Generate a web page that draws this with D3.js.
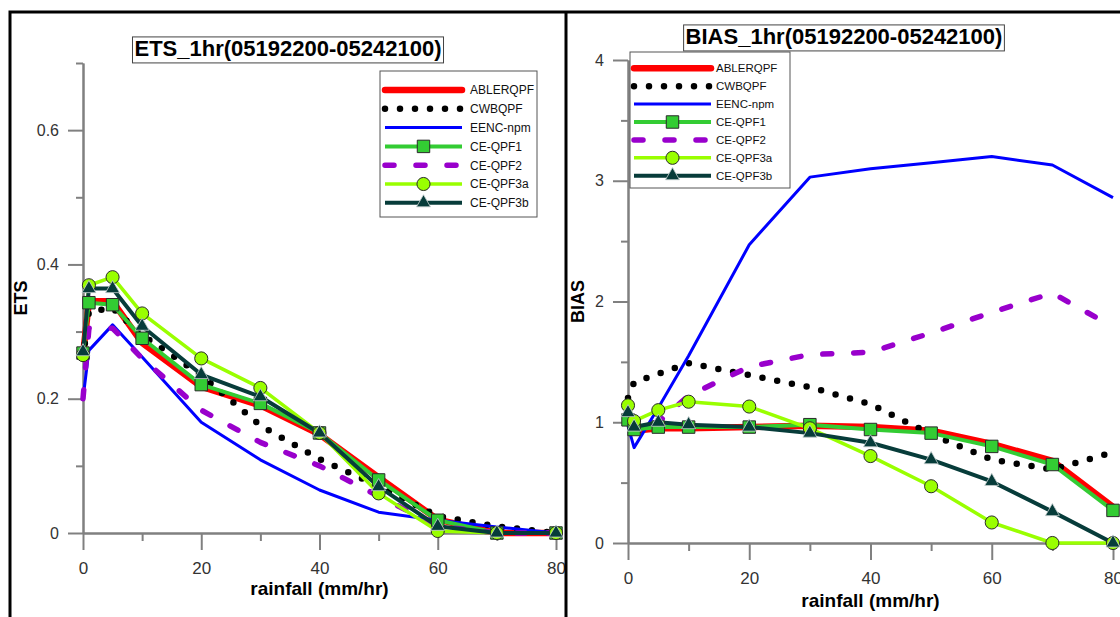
<!DOCTYPE html>
<html>
<head>
<meta charset="utf-8">
<script src="https://cdn.jsdelivr.net/npm/d3@7"></script>
<style>
	body { margin: 0; background: #fff; }
	svg { display: block; font-family: "Liberation Sans", Arial, sans-serif; }
</style>
</head>
<body>
<svg id="wrapper" width="1120" height="617"></svg>
<script>
// rainfall thresholds (mm/hr)
let rainfall = [0, 1, 5, 10, 20, 30, 40, 50, 60, 70, 80];

let seriesNames = ["ABLERQPF", "CWBQPF", "EENC-npm", "CE-QPF1", "CE-QPF2", "CE-QPF3a", "CE-QPF3b"];

// ETS values
let etsABLERQPF = [0.265, 0.345, 0.345, 0.283, 0.218, 0.19, 0.147, 0.083, 0.02, 0, 0];
let etsCWBQPF = [0.26, 0.33, 0.335, 0.295, 0.235, 0.16, 0.11, 0.07, 0.025, 0.01, 0];
let etsEENC = [0.2, 0.272, 0.31, 0.262, 0.165, 0.109, 0.064, 0.031, 0.019, 0.009, 0];
let etsQPF1 = [0.268, 0.343, 0.34, 0.29, 0.221, 0.193, 0.149, 0.079, 0.019, 0, 0];
let etsQPF2 = [0.2, 0.305, 0.305, 0.26, 0.183, 0.135, 0.1, 0.055, 0.01, 0, 0];
let etsQPF3a = [0.265, 0.369, 0.381, 0.327, 0.26, 0.216, 0.149, 0.059, 0.003, 0, 0];
let etsQPF3b = [0.27, 0.364, 0.364, 0.308, 0.236, 0.203, 0.149, 0.069, 0.01, 0, 0];

// BIAS values
let biasABLERQPF = [1.0, 0.93, 0.95, 0.95, 0.96, 0.97, 0.96, 0.93, 0.82, 0.68, 0.3];
let biasCWBQPF = [1.2, 1.33, 1.4, 1.49, 1.39, 1.29, 1.15, 0.9, 0.69, 0.61, 0.75];
let biasEENC = [0.97, 0.79, 1.12, 1.55, 2.47, 3.03, 3.1, 3.15, 3.2, 3.13, 2.86];
let biasQPF1 = [1.02, 0.94, 0.96, 0.96, 0.96, 0.98, 0.94, 0.91, 0.8, 0.65, 0.27];
let biasQPF2 = [1.05, 0.98, 1.0, 1.22, 1.46, 1.56, 1.58, 1.74, 1.91, 2.07, 1.79];
let biasQPF3a = [1.14, 1.01, 1.1, 1.17, 1.13, 0.95, 0.72, 0.47, 0.17, 0, 0];
let biasQPF3b = [1.08, 0.96, 1.0, 0.98, 0.96, 0.91, 0.83, 0.69, 0.51, 0.26, 0];

let etsTicks = [0, 0.2, 0.4, 0.6];
let etsMinor = [0.1, 0.3, 0.5, 0.7];
let biasTicks = [0, 1, 2, 3, 4];
let biasMinor = [0.5, 1.5, 2.5, 3.5];
let xTicks = [0, 20, 40, 60, 80];
let xMinor = [10, 30, 50, 70];

let styles = {
	"ABLERQPF": { color: "#ff0000", width: 6.5, cap: "round" },
	"CWBQPF": { color: "#000000", width: 6.5, dash: "0 15" },
	"EENC-npm": { color: "#0000ff", width: 3 },
	"CE-QPF1": { color: "#33cc33", width: 4, marker: "square" },
	"CE-QPF2": { color: "#9900cc", width: 5.5, dash: "9 22" },
	"CE-QPF3a": { color: "#99ff00", width: 3.5, marker: "circle" },
	"CE-QPF3b": { color: "#073c3a", width: 4, marker: "triangle" },
};

let svg = d3.select("#wrapper");

let symbolFor = function (kind) {
	if (kind === "square") return d3.symbol(d3.symbolSquare, 155)();
	if (kind === "circle") return d3.symbol(d3.symbolCircle, 135)();
	return d3.symbol(d3.symbolTriangle, 85)();
};

let drawMarker = function (g, kind, x, y) {
	let st = Object.values(styles).find((s) => s.marker === kind);
	g.append("path")
		.attr("d", symbolFor(kind))
		.attr("transform", "translate(" + x + "," + y + ")")
		.attr("fill", st.color)
		.attr("stroke", kind === "triangle" ? "#c8d0d0" : "#2a2a2a")
		.attr("stroke-width", kind === "triangle" ? 0.8 : 1);
};

let styleLine = function (sel, st) {
	sel.attr("fill", "none")
		.attr("stroke", st.color)
		.attr("stroke-width", st.width)
		.attr("stroke-linejoin", "round")
		.attr("stroke-linecap", st.dash || st.cap ? "round" : "butt");
	if (st.dash) sel.attr("stroke-dasharray", st.dash);
};

let drawPanel = function (p) {
	let g = svg.append("g");
	let x = d3.scaleLinear().domain([0, 80]).range(p.xRange);
	let y = d3.scaleLinear().domain(p.yDomain).range(p.yRange);
	let axisColor = "#808080";

	// minor ticks first, then major ticks with labels
	let yMinor = g.append("g").attr("transform", "translate(" + p.xRange[0] + ",0)")
		.call(d3.axisLeft(y).tickValues(p.minor).tickSize(7).tickSizeOuter(0).tickFormat(""));
	let yMajor = g.append("g").attr("transform", "translate(" + p.xRange[0] + ",0)")
		.call(d3.axisLeft(y).tickValues(p.major).tickSize(15).tickSizeOuter(0).tickPadding(9).tickFormat(p.fmt));
	let xMin = g.append("g").attr("transform", "translate(0," + p.yRange[0] + ")")
		.call(d3.axisBottom(x).tickValues(xMinor).tickSize(8).tickSizeOuter(0).tickFormat(""));
	let xMaj = g.append("g").attr("transform", "translate(0," + p.yRange[0] + ")")
		.call(d3.axisBottom(x).tickValues(xTicks).tickSize(17).tickSizeOuter(0).tickPadding(12));

	[yMinor, yMajor, xMin, xMaj].forEach((a) => {
		a.selectAll("path, line").attr("stroke", axisColor).attr("stroke-width", 2);
		a.selectAll("text").attr("fill", "#333").style("font-size", "16px")
			.style("font-family", "'Liberation Sans', Arial, sans-serif");
	});
	xMaj.selectAll("text").style("font-size", "17px");

	// axis titles
	g.append("text")
		.attr("x", (p.xRange[0] + p.xRange[1]) / 2)
		.attr("y", p.xTitleY)
		.attr("text-anchor", "middle")
		.attr("font-weight", "bold").attr("font-size", 19)
		.text("rainfall (mm/hr)");
	g.append("text")
		.attr("transform", "translate(" + p.yTitleX + "," + (p.yRange[0] + p.yRange[1]) / 2 + ") rotate(-90)")
		.attr("text-anchor", "middle").attr("dy", "0.35em")
		.attr("font-weight", "bold").attr("font-size", 18)
		.text(p.yTitle);

	// series lines, then markers on top
	let line = d3.line().x((d, i) => x(rainfall[i])).y((d) => y(d));
	p.series.forEach((vals, k) => {
		let st = styles[seriesNames[k]];
		styleLine(g.append("path").datum(vals).attr("d", line), st);
	});
	p.series.forEach((vals, k) => {
		let st = styles[seriesNames[k]];
		if (!st.marker) return;
		vals.forEach((v, i) => drawMarker(g, st.marker, x(rainfall[i]), y(v)));
	});

	// chart title in a box
	let t = g.append("text")
		.attr("x", p.titleX).attr("y", p.titleY)
		.attr("text-anchor", "middle").attr("dy", "0.36em")
		.attr("font-weight", "bold").attr("font-size", 22)
		.text(p.title);
	let bb = t.node().getBBox();
	g.insert("rect", function () { return t.node(); })
		.attr("x", bb.x - 2).attr("y", bb.y + 1)
		.attr("width", bb.width + 4).attr("height", bb.height + 1)
		.attr("fill", "#fff").attr("stroke", "#444").attr("stroke-width", 1);

	// legend
	let lg = p.legend;
	let leg = g.append("g");
	leg.append("rect")
		.attr("x", lg.x).attr("y", lg.y).attr("width", lg.w).attr("height", lg.h)
		.attr("fill", "#fff").attr("stroke", "#555").attr("stroke-width", 1);
	seriesNames.forEach((name, k) => {
		let st = styles[name];
		let ry = lg.row0 + k * lg.step;
		styleLine(leg.append("line")
			.attr("x1", lg.x1).attr("x2", lg.x2).attr("y1", ry).attr("y2", ry), st);
		if (st.marker) drawMarker(leg, st.marker, (lg.x1 + lg.x2) / 2, ry);
		leg.append("text")
			.attr("x", lg.tx).attr("y", ry).attr("dy", "0.36em")
			.attr("font-size", lg.fs).attr("fill", "#111")
			.text(name);
	});
};

drawPanel({
	xRange: [83, 556], yRange: [533, 63], yDomain: [0, 0.7],
	major: etsTicks, minor: etsMinor, fmt: (d) => (d === 0 ? "0" : d3.format(".1f")(d)),
	xTitleY: 595, yTitle: "ETS", yTitleX: 21,
	title: "ETS_1hr(05192200-05242100)", titleX: 288, titleY: 48,
	series: [etsABLERQPF, etsCWBQPF, etsEENC, etsQPF1, etsQPF2, etsQPF3a, etsQPF3b],
	legend: { x: 380, y: 71, w: 157, h: 146, row0: 90, step: 18.8, x1: 385, x2: 462, tx: 470, fs: 12 },
});

drawPanel({
	xRange: [628, 1113], yRange: [543, 60], yDomain: [0, 4],
	major: biasTicks, minor: biasMinor, fmt: d3.format("d"),
	xTitleY: 607, yTitle: "BIAS", yTitleX: 578,
	title: "BIAS_1hr(05192200-05242100)", titleX: 844, titleY: 36,
	series: [biasABLERQPF, biasCWBQPF, biasEENC, biasQPF1, biasQPF2, biasQPF3a, biasQPF3b],
	legend: { x: 630, y: 52, w: 160, h: 136, row0: 68.3, step: 17.9, x1: 634, x2: 711, tx: 716, fs: 11.5 },
});

// panel frame lines
svg.append("path")
	.attr("d", "M10,617 V12 H1120 M566,12 V617")
	.attr("fill", "none").attr("stroke", "#000").attr("stroke-width", 3);
</script>
</body>
</html>
